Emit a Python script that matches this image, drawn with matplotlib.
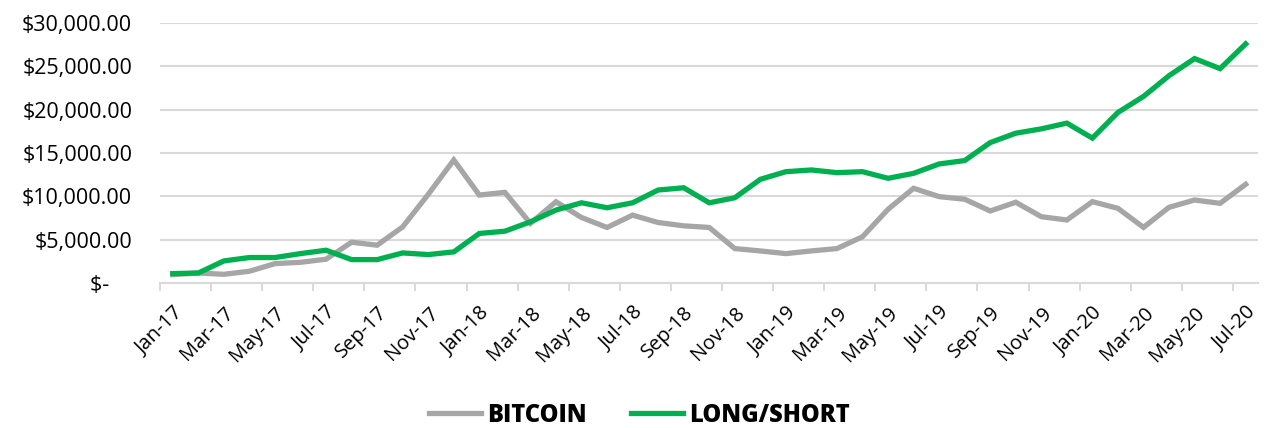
import matplotlib
matplotlib.use("Agg")
import matplotlib.pyplot as plt
from matplotlib.ticker import FuncFormatter, FixedLocator

months = ["Jan", "Feb", "Mar", "Apr", "May", "Jun", "Jul", "Aug", "Sep", "Oct", "Nov", "Dec"]
labels = []
for yr in ["17", "18", "19", "20"]:
    for m in months:
        labels.append(m + "-" + yr)
labels = labels[:43]  # Jan-17 .. Jul-20

bitcoin = [1000, 1190, 1040, 1390, 2270, 2420, 2780, 4730, 4390, 6500, 10240, 14200,
           10160, 10470, 6900, 9390, 7580, 6430, 7850, 7000, 6620, 6430, 4000, 3730,
           3420, 3730, 4000, 5360, 8520, 10940, 9980, 9680, 8330, 9330, 7670, 7290,
           9400, 8630, 6440, 8750, 9590, 9210, 11400]

long_short = [1120, 1190, 2580, 2970, 2970, 3420, 3810, 2730, 2730, 3500, 3310, 3620,
              5740, 6000, 7080, 8430, 9270, 8700, 9270, 10740, 11000, 9270, 9850, 11970,
              12850, 13050, 12740, 12850, 12090, 12660, 13740, 14130, 16200, 17280, 17780, 18440,
              16710, 19670, 21510, 23900, 25870, 24710, 27560]

plt.rcParams['font.family'] = ['Open Sans', 'DejaVu Sans']

fig = plt.figure(figsize=(12.64, 4.28), dpi=100)
ax = fig.add_axes([0.1266, 0.338, 0.869, 0.609])

x = list(range(len(labels)))
ax.plot(x, bitcoin, color="#a6a6a6", lw=3.8, label="BITCOIN", solid_joinstyle="miter")
ax.plot(x, long_short, color="#00b050", lw=3.8, label="LONG/SHORT", solid_joinstyle="miter")

ax.set_xlim(-0.5, len(labels) - 0.5)
ax.set_ylim(0, 30000)
ax.set_yticks(range(0, 30001, 5000))


def money(v, pos):
    if v == 0:
        return "$-    "
    return "${:,.2f}".format(v)


ax.yaxis.set_major_formatter(FuncFormatter(money))
ax.tick_params(axis="y", length=0, labelsize=15.5, pad=20, colors="black")
ax.grid(axis="y", color="#d9d9d9", lw=1.5)
ax.set_axisbelow(True)

# label every second month, tick marks on category boundaries
ax.set_xticks(x[::2])
ax.set_xticklabels(labels[::2], rotation=45, ha="right", rotation_mode="anchor")
ax.tick_params(axis="x", which="major", length=0, labelsize=14.5, pad=14)
ax.xaxis.set_minor_locator(FixedLocator([i - 0.5 for i in range(0, 44, 2)]))
ax.tick_params(axis="x", which="minor", length=6, width=1.5, color="#d9d9d9")

for s in ["top", "right", "left"]:
    ax.spines[s].set_visible(False)
ax.spines["bottom"].set_color("#d9d9d9")
ax.spines["bottom"].set_linewidth(1.5)

leg = fig.legend(loc="center", bbox_to_anchor=(0.506, 0.03), ncol=2, frameon=False,
                 prop={"weight": "heavy", "size": 17}, handlelength=2.2,
                 columnspacing=1.9, handletextpad=0.25)

fig.savefig("out.png", dpi=100)
